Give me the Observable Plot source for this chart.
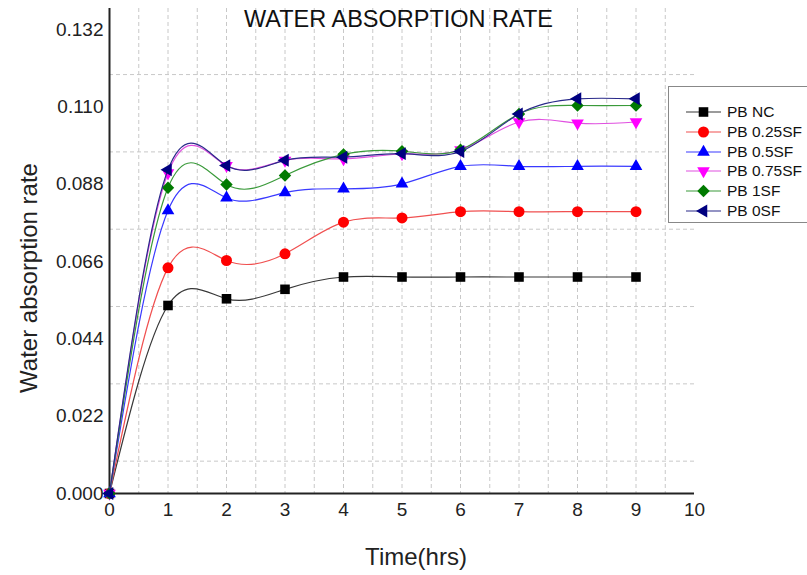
<!DOCTYPE html>
<html><head><meta charset="utf-8">
<script src="https://cdn.jsdelivr.net/npm/d3@7"></script>
<script src="https://cdn.jsdelivr.net/npm/@observablehq/plot@0.6"></script>
<style>
body{margin:0;background:#fff;}
#wrap{position:relative;width:807px;height:575px;overflow:hidden;font-family:"Liberation Sans",Arial,sans-serif;color:#222;}
#chart{position:absolute;left:0;top:0;}
.title{position:absolute;left:0;width:797px;top:8px;text-align:center;font-size:23.5px;line-height:23px;color:#111;}
.ytitle{position:absolute;left:29px;top:278px;transform:translate(-50%,-50%) rotate(-90deg);font-size:24px;white-space:nowrap;color:#222;}
.xtitle{position:absolute;left:416px;top:545px;transform:translateX(-50%);font-size:24px;line-height:24px;white-space:nowrap;color:#222;}
#legend{position:absolute;left:668px;top:86px;width:170px;height:135px;border:1.5px solid #888;background:#fff;}
.lrow{position:absolute;left:0;height:20px;width:170px;}
.lrow svg{position:absolute;left:15px;top:0;}
.lrow span{position:absolute;left:58px;top:2px;font-size:15.5px;line-height:16px;color:#111;white-space:nowrap;}
</style>
</head><body>
<div id="wrap">
  <div id="chart"></div>
  <div class="title">WATER ABSORPTION RATE</div>
  <div class="ytitle">Water absorption rate</div>
  <div class="xtitle">Time(hrs)</div>
  <div id="legend"></div>
</div>
<script>
// ---- data ----
const time = [0, 1, 2, 3, 4, 5, 6, 7, 8, 9];
const seriesNames = ["PB NC", "PB 0.25SF", "PB 0.5SF", "PB 0.75SF", "PB 1SF", "PB 0SF"];
const pbNC   = [0, 0.0535, 0.0554, 0.0581, 0.0616, 0.0616, 0.0616, 0.0616, 0.0616, 0.0616];
const pb025  = [0, 0.0642, 0.0663, 0.0682, 0.0772, 0.0784, 0.0802, 0.0802, 0.0802, 0.0802];
const pb05   = [0, 0.0805, 0.0841, 0.0856, 0.0867, 0.0881, 0.0931, 0.0931, 0.0931, 0.0931];
const pb075  = [0, 0.0912, 0.0933, 0.0948, 0.0952, 0.0966, 0.0978, 0.1057, 0.1054, 0.1057];
const pb1    = [0, 0.0870, 0.0879, 0.0905, 0.0965, 0.0974, 0.0978, 0.1080, 0.1104, 0.1104];
const pb0    = [0, 0.0921, 0.0933, 0.0948, 0.0957, 0.0967, 0.0973, 0.1080, 0.1123, 0.1123];
const seriesValues = [pbNC, pb025, pb05, pb075, pb1, pb0];
const xTicks = [0, 1, 2, 3, 4, 5, 6, 7, 8, 9, 10];
const yTicks = [0, 0.022, 0.044, 0.066, 0.088, 0.110, 0.132];
const gridX = [0.5, 1, 1.5, 2, 2.5, 3, 3.5, 4, 4.5, 5, 5.5, 6, 6.5, 7, 7.5, 8, 8.5, 9, 9.5];
const gridY = [0.0092, 0.0312, 0.0532, 0.0752, 0.0972, 0.1192];

// ---- styles ----
const S3 = Math.sqrt(3);
const triDown = {draw(ctx, size){const y = -Math.sqrt(size/(3*S3)); ctx.moveTo(0,-2*y); ctx.lineTo(-S3*y, y); ctx.lineTo(S3*y, y); ctx.closePath();}};
const triLeft = {draw(ctx, size){const y = -Math.sqrt(size/(3*S3)); ctx.moveTo(2*y,0); ctx.lineTo(-y, S3*y); ctx.lineTo(-y, -S3*y); ctx.closePath();}};
const style = {
  line:   ["#383838", "#f05050", "#3a3aff", "#e050e0", "#3a9a3a", "#2a2a8a"],
  marker: ["#000000", "#ff0000", "#0000ff", "#ff00ff", "#007a00", "#000080"],
  symbol: ["square", "circle", "triangle", triDown, "diamond2", triLeft],
  d3sym:  [d3.symbolSquare, d3.symbolCircle, d3.symbolTriangle, triDown, d3.symbolDiamond2, triLeft],
  r:      [5.4, 5.5, 4.7, 4.7, 5.6, 4.8]
};

const tables = seriesNames.map((name, i) => time.map((t, j) => ({series: name, time: t, value: seriesValues[i][j]})));

const marks = [
  Plot.ruleX(gridX, {stroke: "#c8c8c8", strokeWidth: 1, strokeDasharray: "4,3"}),
  Plot.ruleY(gridY, {stroke: "#c8c8c8", strokeWidth: 1, strokeDasharray: "4,3"}),
  Plot.ruleX([0], {stroke: "#222", strokeWidth: 2}),
  Plot.ruleY([0], {stroke: "#222", strokeWidth: 2}),
  Plot.axisX({ticks: xTicks, tickSize: 0, tickPadding: 9, fontSize: 19, label: null, tickFormat: d3.format("d")}),
  Plot.axisY({ticks: yTicks, tickSize: 0, tickPadding: 6, fontSize: 19, label: null, tickFormat: d3.format(".3f")})
];
tables.forEach((rows, i) => {
  marks.push(Plot.line(rows, {x: "time", y: "value", curve: "natural", stroke: style.line[i], strokeWidth: 1.2}));
  marks.push(Plot.dot(rows, {x: "time", y: "value", symbol: style.symbol[i], fill: style.marker[i], r: style.r[i], stroke: "none"}));
});

const chart = Plot.plot({
  width: 807, height: 575,
  marginLeft: 109, marginRight: 113, marginTop: 8, marginBottom: 82,
  x: {domain: [0, 10]},
  y: {domain: [0, 0.138]},
  style: {fontFamily: "'Liberation Sans', Arial, sans-serif", color: "#222", background: "#fff"},
  marks
});
document.getElementById("chart").appendChild(chart);

// ---- legend ----
const legend = document.getElementById("legend");
seriesNames.forEach((name, i) => {
  const row = document.createElement("div");
  row.className = "lrow";
  row.style.top = (14.7 + 19.9 * i) + "px";
  const size = Math.PI * style.r[i] * style.r[i];
  const path = d3.symbol(style.d3sym[i], size)();
  row.innerHTML = `<svg width="40" height="20"><line x1="2" x2="37" y1="10" y2="10" stroke="${style.line[i]}" stroke-width="1.2"/><path transform="translate(19.5,10)" d="${path}" fill="${style.marker[i]}"/></svg><span>${name}</span>`;
  legend.appendChild(row);
});
</script>
</body></html>
